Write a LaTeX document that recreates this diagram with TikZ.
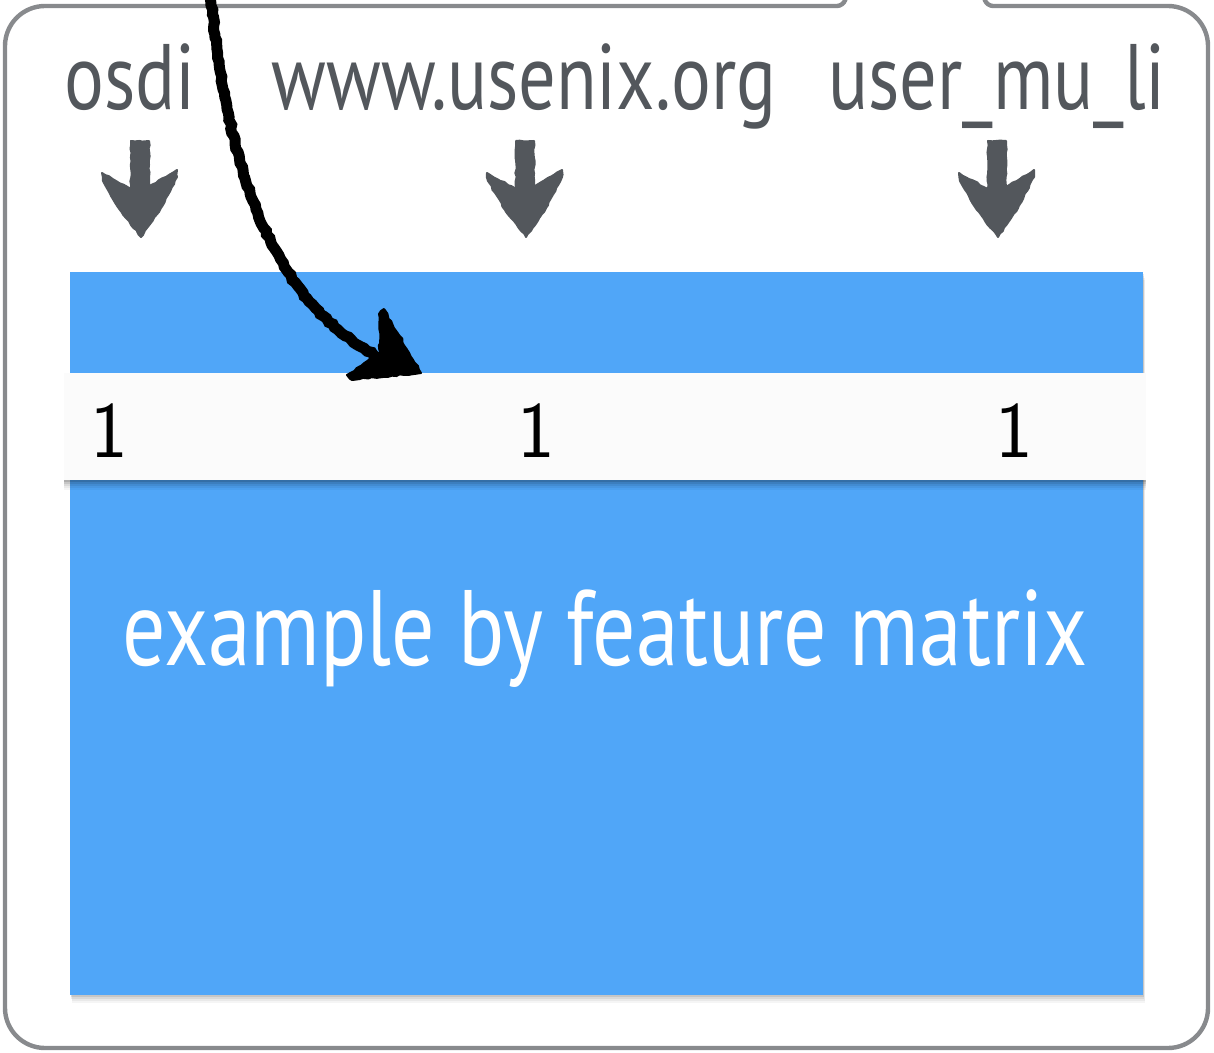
\documentclass[tikz,border=0pt]{standalone}
\usepackage{fontspec}
\setmainfont{PT Sans}
\newfontfamily\narrowfont[FakeStretch=0.80]{PT Sans}
\usetikzlibrary{decorations.pathmorphing}
\definecolor{frameGray}{RGB}{136,138,141}
\definecolor{inkGray}{RGB}{83,87,92}
\definecolor{panelBlue}{RGB}{80,166,248}
\definecolor{bandWhite}{RGB}{251,251,251}
\tikzset{
  label/.style={font=\narrowfont\fontsize{46.5}{50}\selectfont, text=inkGray, inner sep=0pt, anchor=base},
  one/.style={font=\sffamily\fontsize{40}{44}\selectfont, text=black, inner sep=0pt, anchor=base},
  rough/.style={decorate, decoration={random steps, segment length=2pt, amplitude=0.5pt}},
  downarrow/.style={fill=inkGray, draw=inkGray, line width=1pt, line join=round,
    decorate, decoration={random steps, segment length=2pt, amplitude=0.35pt}},
}
\begin{document}
\begin{tikzpicture}[x=0.5pt, y=-0.5pt]
  \useasboundingbox (0,0) rectangle (1214,1053);
  \clip (0,0) rectangle (1214,1053);

  % callout frame with the pointer leaving through the top edge
  \draw[frameGray, line width=2.2pt, rounded corners=3pt]
    (856,-30) -- (843,6) [rounded corners=20pt] -- (5,6) -- (5,1048) -- (1208,1048) -- (1208,6)
    [rounded corners=3pt] -- (987,6) -- (974,-30);

  % column names
  \node[label] (osdi) at (130,110) {osdi};
  \node[label] (site) at (524,110) {www.usenix.org};
  \node[label] (user) at (997,110) {user\_mu\_li};

  % blue panel with soft shadow
  \foreach \d/\o in {8/0.04,6/0.05,4/0.07,2/0.09}{
    \fill[black, opacity=\o] (70+\d*0.3,272+\d) rectangle (1143+\d*0.3,995+\d);
  }
  \fill[panelBlue] (70,272) rectangle (1143,995);
  \node[font=\narrowfont\fontsize{53.6}{58}\selectfont, text=white, inner sep=0pt, anchor=base] (caption) at (605,665) {example by feature matrix};

  % highlighted row with shadow
  \foreach \d/\o in {10/0.04,8/0.05,6/0.07,4/0.09,2/0.12}{
    \fill[black, opacity=\o] (64,373+\d) rectangle (1146,480+\d);
  }
  \fill[bandWhite] (64,373) rectangle (1146,480);
  \node[one] (v1) at (109,457) {1};
  \node[one] (v2) at (536,457) {1};
  \node[one] (v3) at (1014,457) {1};

  % sketched arrows from names to columns
  \foreach \x/\n in {140/a1,525/a2,997/a3}{
    \coordinate (\n) at (\x,237);
    \filldraw[downarrow] (\x-9,141) -- (\x+9,141) -- (\x+9,187) -- (\x+37,170) -- (\x+37,177)
      -- (\x+21,208) -- (\x+1,237) -- (\x-20,210) -- (\x-37,181) -- (\x-38,173) -- (\x-9,189) -- cycle;
  }

  % sketched curved arrow pointing at the row
  \coordinate (from) at (210,-10);
  \coordinate (tip) at (421,373);
  \draw[black, line width=5.5pt, rough, line cap=round]
    (from) .. controls (228,170) and (270,300) .. (380,358);
  \filldraw[black, line width=1pt, line join=round, rough]
    (tip) -- (384,309) -- (379,314) -- (380,352) -- (347,375) -- (352,380) -- cycle;
\end{tikzpicture}
\end{document}
